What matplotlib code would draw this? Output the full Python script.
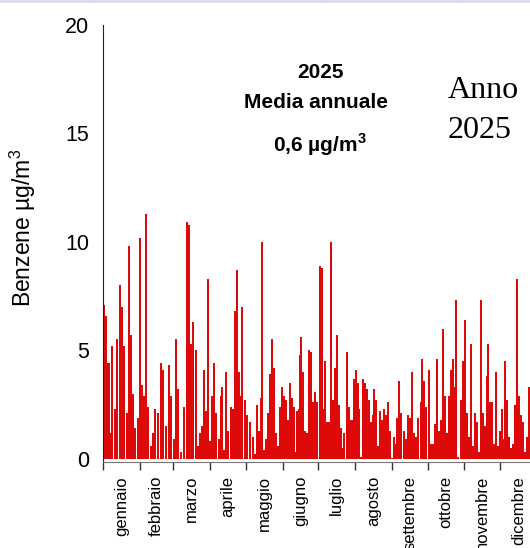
import numpy as np
import matplotlib
matplotlib.use("Agg")
import matplotlib.pyplot as plt

# benzene concentration peaks through the year (day of year, ug/m3)
days = [0.3, 2.5, 4.6, 5.9, 7.6, 10.1, 11.8, 14.3, 16.0, 17.7, 20.2, 21.9, 23.5, 25.2,
        26.9, 29.4, 31.1, 32.8, 34.5, 36.2, 37.8, 40.4, 42.1, 43.7, 46.3, 48.8, 50.5,
        53.0, 55.5, 57.2, 59.7, 61.4, 63.1, 65.6, 68.1, 70.6, 72.3, 74.0, 75.7, 78.2,
        79.9, 81.6, 83.3, 84.9, 86.6, 88.3, 90.0, 91.7, 93.4, 95.0, 97.6, 99.2, 100.1,
        101.8, 103.4, 105.1, 107.6, 109.3, 111.0, 112.7, 114.4, 116.1, 116.9, 119.4,
        121.1, 123.6, 126.2, 127.8, 129.5, 131.2, 132.9, 133.7, 135.4, 137.1, 138.8,
        140.4, 142.1, 143.8, 145.5, 147.2, 148.9, 150.5, 152.2, 153.9, 155.6, 157.3,
        159.0, 160.6, 161.5, 163.2, 164.8, 165.7, 166.5, 168.2, 169.9, 171.6, 173.2,
        174.9, 176.6, 178.3, 180.0, 182.5, 184.2, 185.9, 186.7, 188.4, 190.1, 191.7,
        193.4, 195.1, 196.8, 198.5, 200.2, 201.0, 202.7, 205.2, 206.9, 208.6, 210.3,
        211.1, 212.8, 214.5, 215.3, 217.0, 218.7, 220.3, 222.0, 223.7, 225.4, 227.1,
        227.9, 229.6, 231.3, 233.0, 234.6, 236.3, 238.0, 239.7, 241.4, 243.0, 244.7,
        246.4, 247.3, 248.9, 250.6, 253.1, 254.8, 256.5, 258.2, 259.9, 261.6, 263.2,
        264.9, 267.4, 268.3, 270.0, 271.6, 274.2, 275.8, 277.5, 279.2, 280.9, 282.6,
        284.3, 285.9, 287.6, 289.3, 291.0, 292.7, 294.4, 296.0, 296.9, 298.6, 301.1,
        302.8, 304.4, 306.1, 307.8, 309.5, 311.2, 312.9, 314.5, 316.2, 317.9, 319.6,
        321.3, 322.9, 323.8, 325.5, 327.1, 328.8, 330.5, 332.2, 333.9, 335.6, 337.2,
        338.1, 339.8, 341.4, 343.1, 344.8, 346.5, 348.2, 349.8, 351.5, 353.2, 354.9,
        356.6, 358.3]
benzene = [7.1, 6.6, 4.4, 1.2, 5.2, 2.3, 5.5, 8.0, 7.0, 5.2, 2.1, 9.8, 5.7, 3.0,
           1.4, 1.9, 10.2, 3.4, 2.9, 11.3, 2.4, 0.6, 1.2, 2.3, 2.1, 4.4, 4.1,
           1.5, 4.3, 2.9, 0.9, 5.5, 3.2, 0.3, 2.4, 10.9, 10.8, 5.3, 6.3, 5.0,
           0.6, 1.2, 1.5, 4.1, 2.2, 8.3, 0.8, 2.9, 4.4, 2.1, 0.9, 2.9, 3.3,
           0.4, 4.0, 1.3, 2.4, 2.3, 6.8, 8.7, 4.0, 2.9, 7.0, 2.7,
           2.0, 1.7, 1.0, 0.2, 2.5, 1.3, 2.8, 10.0, 0.4, 0.9, 2.1,
           3.9, 5.5, 4.2, 1.2, 0.6, 2.4, 3.3, 2.9, 2.7, 1.8, 3.5,
           2.8, 2.4, 0.3, 2.2, 2.3, 4.8, 5.6, 4.0, 1.3, 1.2, 5.0,
           4.9, 2.6, 3.1, 2.6, 8.9, 8.8, 2.3, 4.5, 1.7, 1.7, 10.0,
           2.7, 4.2, 5.7, 2.5, 1.4, 0.5, 1.2, 4.9, 2.4, 1.8, 1.8,
           3.7, 4.1, 3.5, 2.3, 0.1, 3.7, 3.5, 3.2, 2.7, 1.7, 2.0,
           3.2, 2.7, 0.6, 2.2, 1.8, 2.3, 2.0, 2.6, 1.3, 0.05, 1.0,
           0.7, 1.9, 3.6, 2.1, 1.3, 0.9, 2.0, 1.9, 4.0, 1.2, 1.0,
           1.9, 2.6, 4.6, 3.6, 2.4, 4.1, 0.7, 0.7, 1.6, 4.6, 1.3,
           1.8, 6.0, 2.9, 1.2, 2.9, 4.1, 4.6, 3.3, 7.3, 0.1, 2.7,
           4.5, 6.4, 2.1, 1.0, 5.3, 0.6, 2.1, 1.7, 0.3, 7.3, 2.1,
           1.5, 3.8, 5.3, 2.6, 2.6, 0.7, 4.0, 0.6, 1.3, 2.3, 0.9,
           4.5, 2.7, 1.0, 0.5, 0.7, 2.5, 8.3, 2.9, 2.0, 1.7, 0.3,
           1.0, 3.3]

months = ["gennaio", "febbraio", "marzo", "aprile", "maggio", "giugno", "luglio",
          "agosto", "settembre", "ottobre", "novembre", "dicembre"]
month_len = [31, 28, 31, 30, 31, 30, 31, 31, 30, 31, 30, 31]

plt.rcParams["font.family"] = ["Liberation Sans", "DejaVu Sans"]
plt.rcParams["mathtext.fontset"] = "custom"
plt.rcParams["mathtext.rm"] = "Liberation Sans"
plt.rcParams["mathtext.bf"] = "Liberation Sans:bold"

fig = plt.figure(figsize=(5.30, 5.48), dpi=100)
# the time axis runs a little past the right edge of the figure
ax = fig.add_axes([103 / 530, 1 - 462 / 548, 434 / 530, 437 / 548])

ax.bar(days, benzene, width=2.4, color="#de0a0a", edgecolor="none", align="center")

edges = np.concatenate([[0], np.cumsum(month_len)])
mids = (edges[:-1] + edges[1:]) / 2
ax.set_xlim(0, 365)
ax.set_ylim(-0.15, 20)
ax.set_xticks(edges)
ax.set_xticklabels([])
ax.set_xticks(mids, minor=True)
ax.set_xticklabels(months, minor=True, rotation=90, va="top", ha="center", fontsize=12)
ax.tick_params(axis="x", which="major", length=6, width=1, color="#333333", direction="out")
ax.tick_params(axis="x", which="minor", length=0, pad=10)

ax.set_yticks([0, 5, 10, 15, 20])
ax.tick_params(axis="y", length=0, pad=10, labelsize=15.5)
ax.set_ylabel("Benzene µg/m$^3$", fontsize=16.5)
ax.yaxis.set_label_coords(-0.15, 0.535)

for s in ["top", "right"]:
    ax.spines[s].set_visible(False)
ax.spines["left"].set_color("#222222")
ax.spines["bottom"].set_color("#777777")
ax.spines["left"].set_bounds(-0.15, 20)

# annual mean annotation
fig.text(320 / 530, 1 - 73 / 548, "2025", ha="center", va="center",
         fontsize=15, fontweight="bold")
fig.text(316 / 530, 1 - 103 / 548, "Media annuale", ha="center", va="center",
         fontsize=15, fontweight="bold")
fig.text(320 / 530, 1 - 145 / 548, r"0,6 µg/m$^{\mathbf{3}}$", ha="center", va="center",
         fontsize=15, fontweight="bold")

fig.text(448 / 530, 1 - 91 / 548, "Anno", ha="left", va="center",
         fontsize=23, family="Liberation Serif")
fig.text(448 / 530, 1 - 130 / 548, "2025", ha="left", va="center",
         fontsize=23, family="Liberation Serif")

# thin frame line along the top edge
for x0, x1 in [(0, 90), (92, 203), (206, 325), (327, 457), (459, 530)]:
    fig.add_artist(plt.Line2D([x0 / 530, x1 / 530], [1 - 1 / 548, 1 - 1 / 548],
                              color="#d8dcec", lw=2))

fig.savefig("out.png", dpi=100)
